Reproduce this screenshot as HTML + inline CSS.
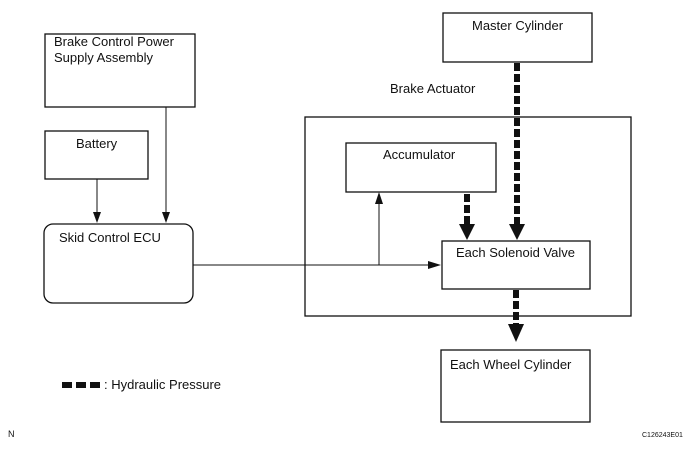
<!DOCTYPE html>
<html><head><style>
body{margin:0;background:#fff;}
svg text{font-family:"Liberation Sans",sans-serif;fill:#111;}
</style></head><body>
<svg width="690" height="447" viewBox="0 0 690 447" xmlns="http://www.w3.org/2000/svg">
<g fill="none" stroke="#111" stroke-width="1.3">
<rect x="45" y="34" width="150" height="73"/>
<rect x="45" y="131" width="103" height="48"/>
<rect x="44" y="224" width="149" height="79" rx="9"/>
<rect x="443" y="13" width="149" height="49"/>
<rect x="305" y="117" width="326" height="199"/>
<rect x="346" y="143" width="150" height="49"/>
<rect x="442" y="241" width="148" height="48"/>
<rect x="441" y="350" width="149" height="72"/>
<line x1="97" y1="179" x2="97" y2="214" stroke-width="1"/>
<line x1="166" y1="107" x2="166" y2="214" stroke-width="1"/>
<line x1="193" y1="265" x2="430" y2="265" stroke-width="1"/>
<line x1="379" y1="265" x2="379" y2="202" stroke-width="1"/>
</g>
<g fill="#111">
<polygon points="93,212 101,212 97,223"/>
<polygon points="162,212 170,212 166,223"/>
<polygon points="428,261 428,269 441,265"/>
<polygon points="375,204 383,204 379,192"/>
</g>
<g stroke="#111" stroke-width="6" stroke-dasharray="8,3" fill="none">
<line x1="517" y1="63" x2="517" y2="225"/>
<line x1="467" y1="194" x2="467" y2="225"/>
<line x1="516" y1="290" x2="516" y2="325"/>
<line x1="62" y1="385" x2="100" y2="385" stroke-dasharray="10,4"/>
</g>
<g fill="#111">
<polygon points="509,224 525,224 517,240"/>
<polygon points="459,224 475,224 467,240"/>
<polygon points="508,324 524,324 516,342"/>
</g>
<g font-size="13">
<text x="54" y="46">Brake Control Power</text>
<text x="54" y="62">Supply Assembly</text>
<text x="76" y="148">Battery</text>
<text x="59" y="242">Skid Control ECU</text>
<text x="472" y="30">Master Cylinder</text>
<text x="390" y="93">Brake Actuator</text>
<text x="383" y="159">Accumulator</text>
<text x="456" y="257">Each Solenoid Valve</text>
<text x="450" y="369">Each Wheel Cylinder</text>
<text x="104" y="389">:  Hydraulic Pressure</text>
</g>
<text x="8" y="437" font-size="9">N</text>
<text x="642" y="437" font-size="7">C126243E01</text>
</svg>
</body></html>
